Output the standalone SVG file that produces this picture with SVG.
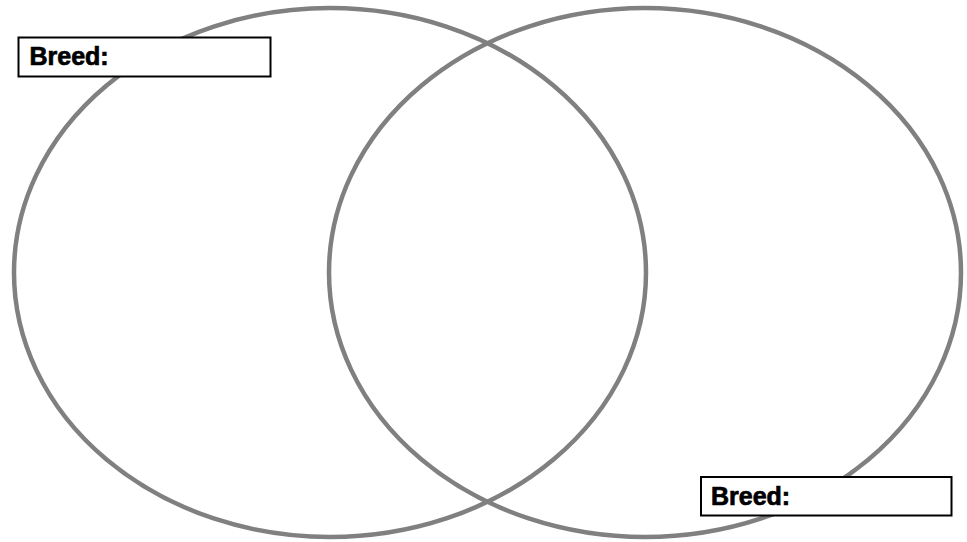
<svg xmlns="http://www.w3.org/2000/svg" width="967" height="542" viewBox="0 0 967 542">
<style>
.c{fill:none;stroke:#808080;stroke-width:4.5}
.b{fill:#fff;stroke:#000;stroke-width:2}
.t{font-family:"Liberation Sans",Arial,sans-serif;font-weight:bold;font-size:25px;fill:#000;stroke:#000;stroke-width:0.7}
</style>
<rect width="967" height="542" fill="#fff"/>
<g id="left-circle"><ellipse class="c" cx="330" cy="272.5" rx="316" ry="264.5"/></g>
<g id="right-circle"><ellipse class="c" cx="645" cy="272.5" rx="316" ry="264.5"/></g>
<g id="label-left"><rect class="b" x="18.5" y="37.5" width="252" height="39"/><text class="t" x="29.5" y="65">Breed:</text></g>
<g id="label-right"><rect class="b" x="701" y="477" width="250.5" height="38.5"/><text class="t" x="711" y="505">Breed:</text></g>
<g id="connectors"/>
</svg>
